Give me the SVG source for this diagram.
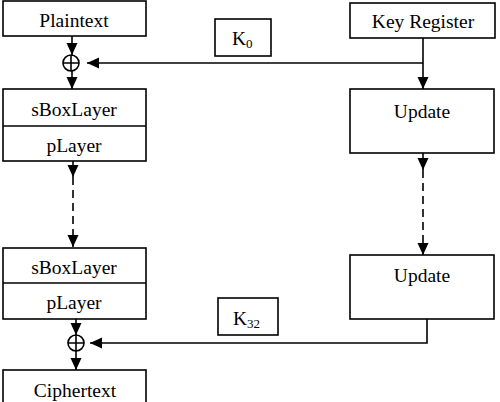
<svg xmlns="http://www.w3.org/2000/svg" width="500" height="402" viewBox="0 0 500 402">
<style>
.box{fill:#fff;stroke:#000;stroke-width:1.6}
.t{font-size:19.5px;fill:#000;text-anchor:middle}
.k{font-size:19.5px;fill:#000}
.ln{fill:none;stroke:#000;stroke-width:1.6}
.dash{stroke-dasharray:8 5}
.xor{fill:#fff;stroke:#000;stroke-width:1.6}
</style>
<defs>
<marker id="ah" markerUnits="userSpaceOnUse" markerWidth="12" markerHeight="12" viewBox="0 0 12 11" refX="12" refY="5.5" orient="auto">
<path d="M0 0 L12 5.5 L0 11 Z" fill="#000"/>
</marker>
</defs>
<rect width="500" height="402" fill="#fff"/>
<g id="connectors">
<path class="ln" d="M72 36 V55" marker-end="url(#ah)"/>
<path class="ln" d="M72 71 V89" marker-end="url(#ah)"/>
<path class="ln" d="M423 38 V89" marker-end="url(#ah)"/>
<path class="ln" d="M423 63 H87" marker-end="url(#ah)"/>
<path class="ln" d="M73 161 V177" marker-end="url(#ah)"/>
<path class="ln dash" d="M73 177 V247" marker-end="url(#ah)"/>
<path class="ln" d="M423 153 V170" marker-end="url(#ah)"/>
<path class="ln dash" d="M423 170 V255" marker-end="url(#ah)"/>
<path class="ln" d="M76 319 V335" marker-end="url(#ah)"/>
<path class="ln" d="M76 351 V370" marker-end="url(#ah)"/>
<path class="ln" d="M427 319 V343 H90" marker-end="url(#ah)"/>
</g>
<g id="xor1">
<circle class="xor" cx="71" cy="63" r="8"/>
<path class="ln" d="M63 63 H79 M71 55 V71"/>
</g>
<g id="xor2">
<circle class="xor" cx="76" cy="343" r="8"/>
<path class="ln" d="M68 343 H84 M76 335 V351"/>
</g>
<g font-family="Liberation Serif, Times New Roman, serif">
<g id="plaintext">
<rect class="box" x="3" y="1" width="143" height="35"/>
<text class="t" x="74" y="27">Plaintext</text>
</g>
<g id="k0">
<rect class="box" x="215" y="19" width="56" height="37"/>
<text class="k" x="232" y="45">K<tspan font-size="13" dy="3">0</tspan></text>
</g>
<g id="keyregister">
<rect class="box" x="350" y="3" width="145" height="35"/>
<text class="t" x="423" y="28">Key Register</text>
</g>
<g id="round1">
<rect class="box" x="3" y="89" width="143" height="72"/>
<line class="ln" x1="3" y1="126" x2="146" y2="126"/>
<text class="t" x="74" y="116">sBoxLayer</text>
<text class="t" x="74" y="152">pLayer</text>
</g>
<g id="update1">
<rect class="box" x="350" y="89" width="144" height="64"/>
<text class="t" x="422" y="118">Update</text>
</g>
<g id="round32">
<rect class="box" x="3" y="248" width="143" height="71"/>
<line class="ln" x1="3" y1="283" x2="146" y2="283"/>
<text class="t" x="74" y="274">sBoxLayer</text>
<text class="t" x="74" y="309">pLayer</text>
</g>
<g id="update2">
<rect class="box" x="350" y="255" width="144" height="64"/>
<text class="t" x="422" y="282">Update</text>
</g>
<g id="k32">
<rect class="box" x="218" y="298" width="60" height="37"/>
<text class="k" x="233" y="325">K<tspan font-size="13" dy="3">32</tspan></text>
</g>
<g id="ciphertext">
<rect class="box" x="3" y="370" width="143" height="40"/>
<text class="t" x="75" y="397">Ciphertext</text>
</g>
</g>
</svg>
